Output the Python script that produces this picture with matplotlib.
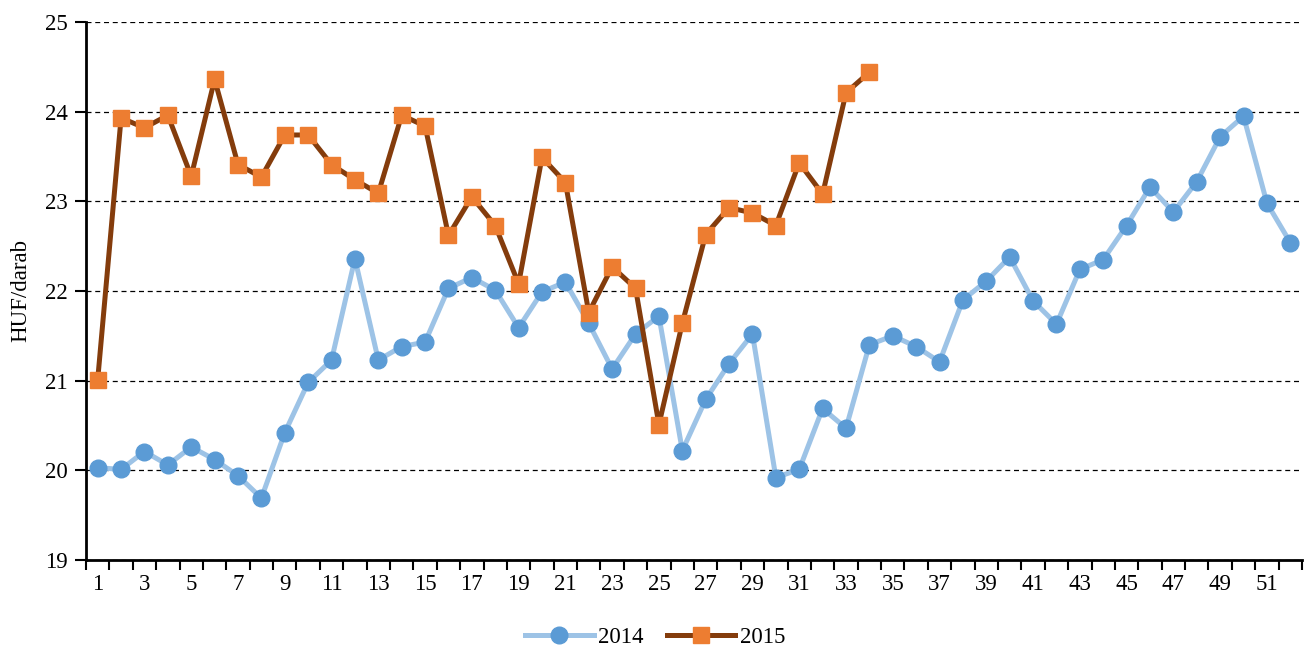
import matplotlib
matplotlib.use("Agg")
import matplotlib.pyplot as plt
from matplotlib.ticker import FixedLocator, NullFormatter

weeks_2014 = list(range(1, 53))
values_2014 = [20.03, 20.01, 20.21, 20.06, 20.26, 20.12, 19.94, 19.69, 20.42, 20.98,
               21.23, 22.36, 21.23, 21.38, 21.43, 22.03, 22.15, 22.01, 21.59, 21.99,
               22.10, 21.64, 21.13, 21.52, 21.72, 20.22, 20.79, 21.19, 21.52, 19.92,
               20.01, 20.69, 20.47, 21.40, 21.50, 21.38, 21.21, 21.90, 22.11, 22.38,
               21.89, 21.63, 22.24, 22.35, 22.73, 23.16, 22.88, 23.22, 23.72, 23.95,
               22.98, 22.54]
weeks_2015 = list(range(1, 35))
values_2015 = [21.01, 23.93, 23.82, 23.96, 23.28, 24.36, 23.41, 23.27, 23.74, 23.74,
               23.41, 23.24, 23.09, 23.96, 23.84, 22.62, 23.05, 22.73, 22.08, 23.49,
               23.21, 21.76, 22.27, 22.03, 20.51, 21.64, 22.63, 22.93, 22.87, 22.73,
               23.43, 23.08, 24.21, 24.44]
ylabel = "HUF/darab"

plt.rcParams['font.family'] = ['Liberation Serif', 'DejaVu Serif']

fig = plt.figure(figsize=(13.09, 6.52), dpi=100)
ax = fig.add_axes([86/1309, 1 - 560/652, (1302-86)/1309, (560-22)/652])

ax.plot(weeks_2014, values_2014, color='#9DC3E6', lw=3.6, marker='o', ms=12,
        mfc='#5B9BD5', mec='#5B9BD5', label='2014', zorder=3)
ax.plot(weeks_2015, values_2015, color='#843C0C', lw=3.6, marker='s', ms=11,
        mfc='#ED7D31', mec='#ED7D31', label='2015', zorder=4)

ax.set_xlim(0.5, 52.5)
ax.set_ylim(19, 25)
ax.set_yticks([19, 20, 21, 22, 23, 24, 25])
ax.xaxis.set_major_locator(FixedLocator([i + 0.5 for i in range(0, 53)]))
ax.xaxis.set_major_formatter(NullFormatter())
ax.xaxis.set_minor_locator(FixedLocator(list(range(1, 53, 2))))
ax.set_xticklabels([str(i) for i in range(1, 53, 2)], minor=True)
ax.tick_params(axis='x', which='major', length=7, width=1.5, direction='out')
ax.tick_params(axis='x', which='minor', length=0, pad=10, labelsize=16.5)
ax.tick_params(axis='y', length=8, width=1.5, labelsize=16.5, pad=5)

ax.grid(axis='y', color='black', ls=(0, (4, 3)), lw=0.9)
for s in ['top', 'right']:
    ax.spines[s].set_visible(False)
for s in ['left', 'bottom']:
    ax.spines[s].set_linewidth(2)

ax.set_ylabel(ylabel, fontsize=16.5, labelpad=10)

fig.legend(loc='center', bbox_to_anchor=(655/1309, 1 - 637/652), ncol=2, frameon=False,
           fontsize=16.5, handlelength=3.0, columnspacing=1.0, handletextpad=0.2)

fig.savefig('out.png', dpi=100)
